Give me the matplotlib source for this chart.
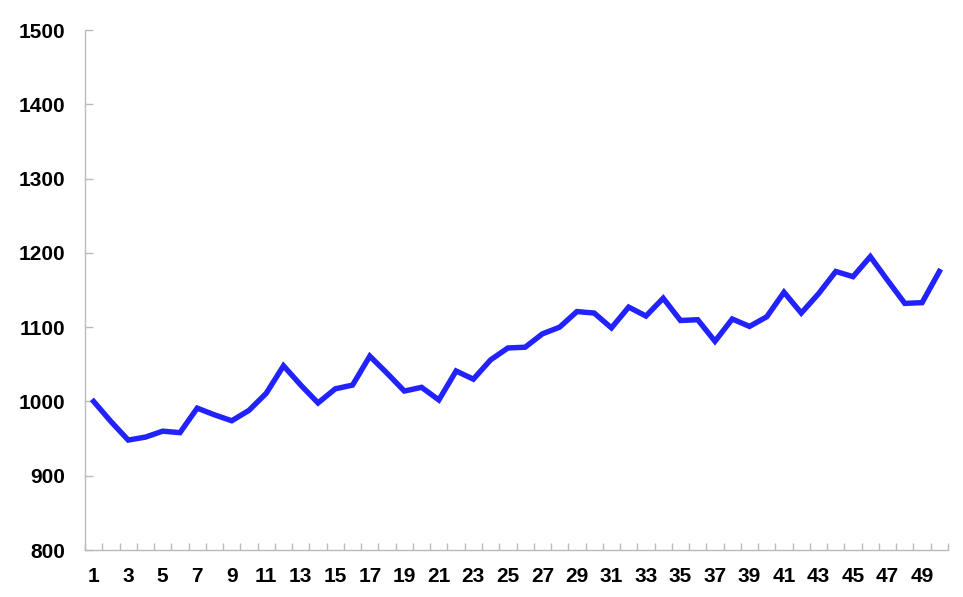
import matplotlib
matplotlib.use("Agg")
import matplotlib.pyplot as plt
import numpy as np

categories = list(range(1, 51))
values = [1000, 973, 948, 952, 960, 958, 991, 982, 974, 988,
          1011, 1048, 1022, 998, 1017, 1022, 1061, 1038, 1014, 1019,
          1002, 1041, 1030, 1056, 1072, 1073, 1091, 1100, 1121, 1119,
          1099, 1127, 1115, 1139, 1109, 1110, 1081, 1111, 1101, 1114,
          1147, 1119, 1145, 1175, 1168, 1195, 1163, 1132, 1133, 1175]
yticks = [800, 900, 1000, 1100, 1200, 1300, 1400, 1500]
xtick_labels = [str(c) for c in categories if c % 2 == 1]

plt.rcParams['font.family'] = ['Liberation Sans', 'DejaVu Sans']

fig = plt.figure(figsize=(9.63, 5.97), dpi=100)
ax = fig.add_axes([0.0883, 0.0787, 0.8961, 0.871])

ax.plot(categories, values, color='#2222FF', linewidth=3.9, solid_joinstyle='miter')

ax.set_xlim(0.5, 50.5)
ax.set_ylim(800, 1500)
ax.set_yticks(yticks)
ax.set_yticklabels([str(v) for v in yticks], fontsize=15, fontweight='bold')

ax.set_xticks([c for c in categories if c % 2 == 1])
ax.set_xticklabels(xtick_labels, fontsize=15, fontweight='bold')
ax.set_xticks(np.arange(0.5, 51, 1.0), minor=True)

ax.tick_params(axis='x', which='major', length=0, pad=12)
ax.tick_params(axis='x', which='minor', direction='in', length=5, color='#BBBBBB', width=1)
ax.tick_params(axis='y', which='major', direction='in', length=6, color='#BBBBBB', width=1, pad=14)

for s in ['top', 'right']:
    ax.spines[s].set_visible(False)
for s in ['left', 'bottom']:
    ax.spines[s].set_color('#BBBBBB')
    ax.spines[s].set_linewidth(1)

fig.savefig('out.png', dpi=100)
